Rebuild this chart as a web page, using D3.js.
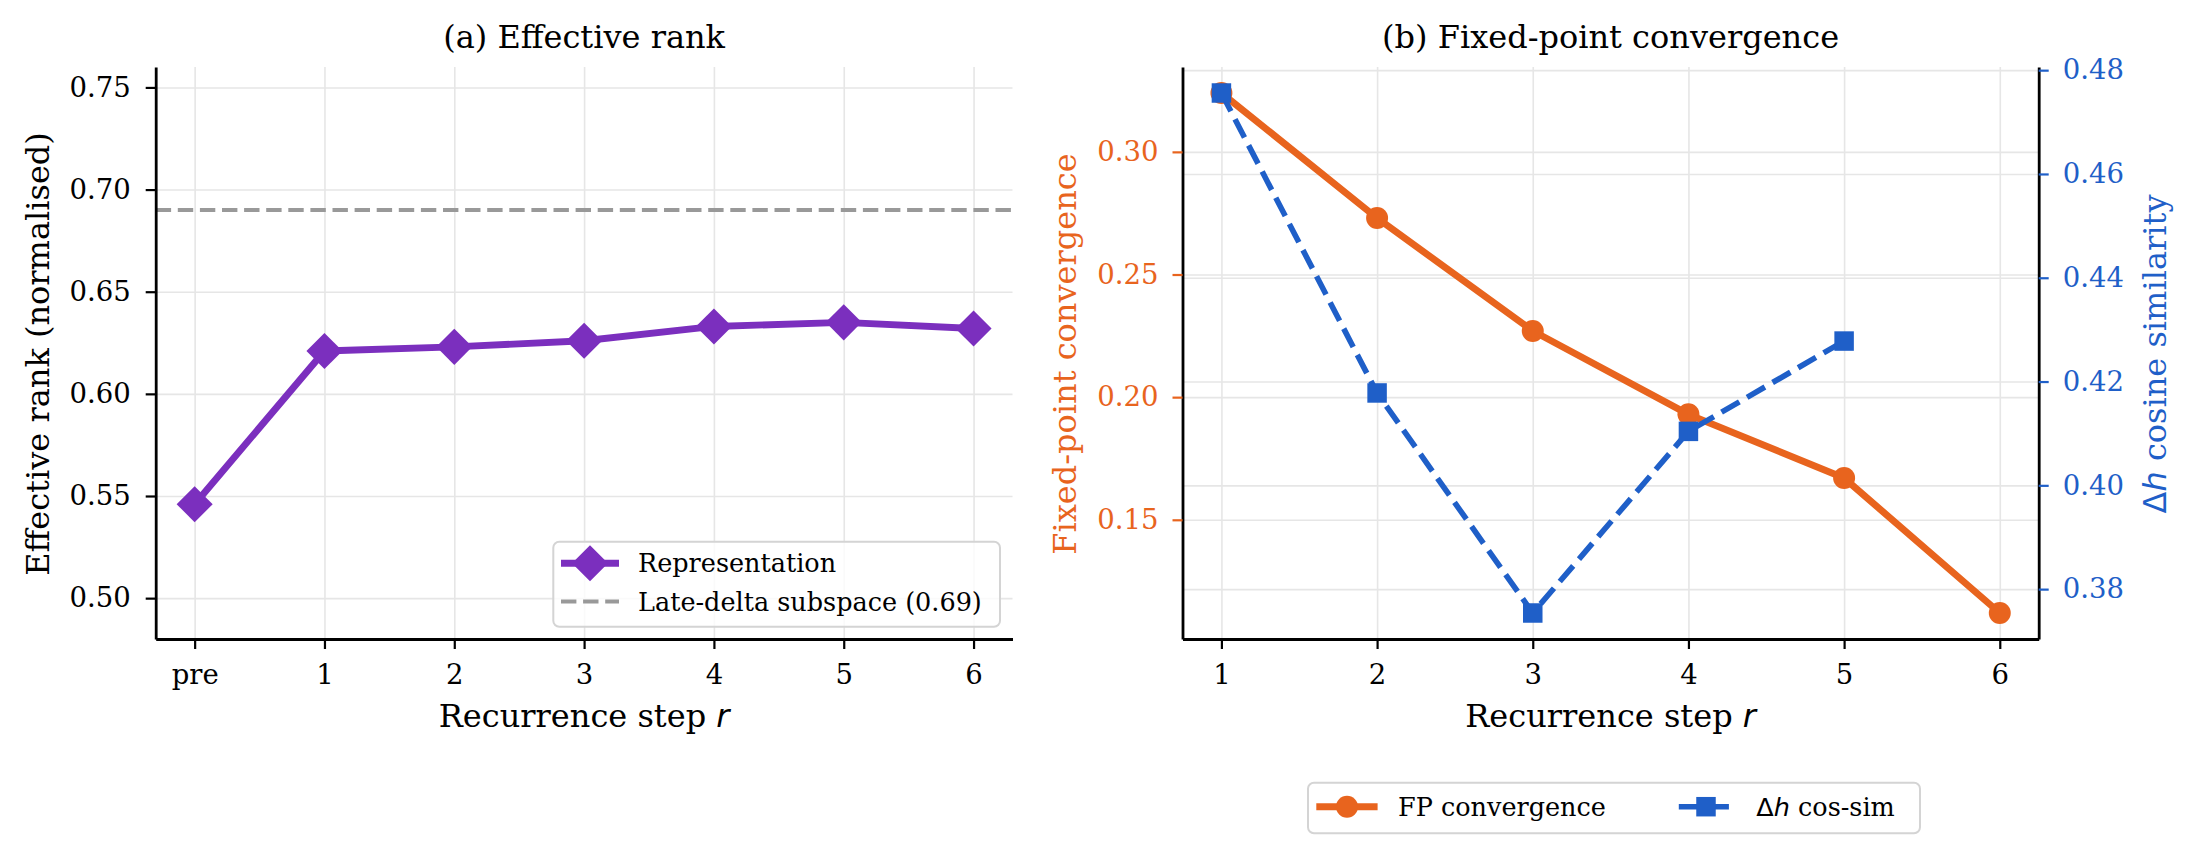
<!DOCTYPE html>
<meta charset="utf-8">
<script src="https://d3js.org/d3.v7.min.js"></script>
<style>
  body { margin: 0; background: #fff; }
  text { font-family: "DejaVu Serif", serif; }
  .grid line { stroke: #e6e6e6; stroke-width: 1.6; }
  .grid path { display: none; }
  .axis path { stroke: #000; stroke-width: 2.8; }
  .axis line { stroke-width: 2.2; }
  .axis text { font-size: 27.5px; }
  .math { font-family: "DejaVu Sans", sans-serif; }
</style>
<div id="chart"></div>
<script>
  // ---- data ----
  var steps = ["pre", "1", "2", "3", "4", "5", "6"];
  var rankValues = [0.546, 0.621, 0.623, 0.626, 0.633, 0.635, 0.632];
  var lateDelta = 0.69;
  var rankTicks = [0.50, 0.55, 0.60, 0.65, 0.70, 0.75];

  var fpSteps = [1, 2, 3, 4, 5, 6];
  var fpValues = [0.324, 0.273, 0.227, 0.193, 0.167, 0.112];
  var cosSteps = [1, 2, 3, 4, 5];
  var cosValues = [0.4756, 0.4178, 0.3754, 0.4104, 0.4278];
  var fpTicks = [0.15, 0.20, 0.25, 0.30];
  var cosTicks = [0.38, 0.40, 0.42, 0.44, 0.46, 0.48];

  var purple = "#7b2fbe", orange = "#e8641e", blue = "#1f5fc8", grey = "#999999";

  var width = 2197, height = 857;
  var svg = d3.select("#chart").append("svg")
      .attr("width", width).attr("height", height);

  // matplotlib-like 5% padding
  function pad(ext) {
    var d = ext[1] - ext[0];
    return [ext[0] - 0.05 * d, ext[1] + 0.05 * d];
  }

  var plotTop = 67, plotBottom = 639;

  // ================= (a) Effective rank =================
  var ax0 = 155.7, ax1 = 1012.5;
  var xA = d3.scaleLinear().domain(pad([0, steps.length - 1])).range([ax0, ax1]);
  var yA = d3.scaleLinear().domain([0.48, 0.76]).range([plotBottom, plotTop]);

  var gA = svg.append("g");

  gA.append("g").attr("class", "grid")
    .attr("transform", "translate(0," + plotBottom + ")")
    .call(d3.axisBottom(xA).tickValues(d3.range(steps.length))
      .tickSize(-(plotBottom - plotTop)).tickFormat(""));
  gA.append("g").attr("class", "grid")
    .attr("transform", "translate(" + ax0 + ",0)")
    .call(d3.axisLeft(yA).tickValues(rankTicks)
      .tickSize(-(ax1 - ax0)).tickFormat(""));

  gA.append("line")
    .attr("x1", ax0).attr("x2", ax1)
    .attr("y1", yA(lateDelta)).attr("y2", yA(lateDelta))
    .attr("stroke", grey).attr("stroke-width", 4)
    .attr("stroke-dasharray", "15.4,6.7");

  var lineA = d3.line().x(function (d, i) { return xA(i); }).y(function (d) { return yA(d); });
  gA.append("path").datum(rankValues)
    .attr("d", lineA).attr("fill", "none")
    .attr("stroke", purple).attr("stroke-width", 6.9);

  var diamond = d3.symbol().type(d3.symbolSquare).size(650);
  gA.selectAll(".dia").data(rankValues).enter().append("path")
    .attr("d", diamond)
    .attr("transform", function (d, i) { return "translate(" + xA(i) + "," + yA(d) + ") rotate(45)"; })
    .attr("fill", purple);

  gA.append("g").attr("class", "axis")
    .attr("transform", "translate(0," + plotBottom + ")")
    .call(d3.axisBottom(xA).tickValues(d3.range(steps.length))
      .tickFormat(function (i) { return steps[i]; })
      .tickSize(10).tickPadding(15).tickSizeOuter(0));
  gA.append("g").attr("class", "axis")
    .attr("transform", "translate(" + ax0 + ",0)")
    .call(d3.axisLeft(yA).tickValues(rankTicks).tickFormat(d3.format(".2f"))
      .tickSize(10).tickPadding(15).tickSizeOuter(0));

  gA.append("text").attr("x", (ax0 + ax1) / 2).attr("y", 48.3)
    .attr("text-anchor", "middle").attr("font-size", 32).text("(a) Effective rank");

  var xlA = gA.append("text").attr("x", (ax0 + ax1) / 2).attr("y", 727)
    .attr("text-anchor", "middle").attr("font-size", 32);
  xlA.append("tspan").text("Recurrence step ");
  xlA.append("tspan").attr("class", "math").attr("font-style", "italic").text("r");

  gA.append("text").attr("transform", "translate(38.3,354) rotate(-90)")
    .attr("text-anchor", "middle").attr("dominant-baseline", "central")
    .attr("font-size", 32).text("Effective rank (normalised)");

  // legend (a)
  var legA = gA.append("g");
  legA.append("rect").attr("x", 553.3).attr("y", 541.7).attr("width", 446.7).attr("height", 85)
    .attr("rx", 6).attr("fill", "#fff").attr("fill-opacity", 0.8)
    .attr("stroke", "#d4d4d4").attr("stroke-width", 2);
  legA.append("line").attr("x1", 561).attr("x2", 619).attr("y1", 563.3).attr("y2", 563.3)
    .attr("stroke", purple).attr("stroke-width", 6.9);
  legA.append("path").attr("d", diamond)
    .attr("transform", "translate(590,563.3) rotate(45)").attr("fill", purple);
  legA.append("line").attr("x1", 561).attr("x2", 619).attr("y1", 601.5).attr("y2", 601.5)
    .attr("stroke", grey).attr("stroke-width", 4).attr("stroke-dasharray", "15.4,6.7");
  legA.append("text").attr("x", 638).attr("y", 563.3).attr("dominant-baseline", "central")
    .attr("font-size", 25.5).text("Representation");
  legA.append("text").attr("x", 638).attr("y", 601.5).attr("dominant-baseline", "central")
    .attr("font-size", 25.5).text("Late-delta subspace (0.69)");

  // ================= (b) Fixed-point convergence =================
  var bx0 = 1182.5, bx1 = 2038.7;
  var xB = d3.scaleLinear().domain(pad(d3.extent(fpSteps))).range([bx0, bx1]);
  var yFP = d3.scaleLinear().domain(pad(d3.extent(fpValues))).range([plotBottom, plotTop]);
  var yCos = d3.scaleLinear().domain(pad(d3.extent(cosValues))).range([plotBottom, plotTop]);

  var gB = svg.append("g");

  gB.append("g").attr("class", "grid")
    .attr("transform", "translate(0," + plotBottom + ")")
    .call(d3.axisBottom(xB).tickValues(fpSteps).tickSize(-(plotBottom - plotTop)).tickFormat(""));
  gB.append("g").attr("class", "grid")
    .attr("transform", "translate(" + bx0 + ",0)")
    .call(d3.axisLeft(yFP).tickValues(fpTicks).tickSize(-(bx1 - bx0)).tickFormat(""));
  gB.append("g").attr("class", "grid")
    .attr("transform", "translate(" + bx0 + ",0)")
    .call(d3.axisLeft(yCos).tickValues(cosTicks).tickSize(-(bx1 - bx0)).tickFormat(""));

  var lineFP = d3.line().x(function (d, i) { return xB(fpSteps[i]); }).y(function (d) { return yFP(d); });
  gB.append("path").datum(fpValues)
    .attr("d", lineFP).attr("fill", "none")
    .attr("stroke", orange).attr("stroke-width", 6.9);
  var circle = d3.symbol().type(d3.symbolCircle).size(380);
  gB.selectAll(".fp").data(fpValues).enter().append("path")
    .attr("d", circle)
    .attr("transform", function (d, i) { return "translate(" + xB(fpSteps[i]) + "," + yFP(d) + ")"; })
    .attr("fill", orange);

  var lineCos = d3.line().x(function (d, i) { return xB(cosSteps[i]); }).y(function (d) { return yCos(d); });
  gB.append("path").datum(cosValues)
    .attr("d", lineCos).attr("fill", "none")
    .attr("stroke", blue).attr("stroke-width", 5.6)
    .attr("stroke-dasharray", "20.6,8.9");
  var square = d3.symbol().type(d3.symbolSquare).size(380);
  gB.selectAll(".cs").data(cosValues).enter().append("path")
    .attr("d", square)
    .attr("transform", function (d, i) { return "translate(" + xB(cosSteps[i]) + "," + yCos(d) + ")"; })
    .attr("fill", blue);

  gB.append("g").attr("class", "axis")
    .attr("transform", "translate(0," + plotBottom + ")")
    .call(d3.axisBottom(xB).tickValues(fpSteps).tickFormat(d3.format("d"))
      .tickSize(10).tickPadding(15).tickSizeOuter(0));

  var axFP = gB.append("g").attr("class", "axis")
    .attr("transform", "translate(" + bx0 + ",0)")
    .call(d3.axisLeft(yFP).tickValues(fpTicks).tickFormat(d3.format(".2f"))
      .tickSize(10).tickPadding(14).tickSizeOuter(0));
  axFP.selectAll(".tick line").attr("stroke", orange);
  axFP.selectAll(".tick text").attr("fill", orange);

  var axCos = gB.append("g").attr("class", "axis")
    .attr("transform", "translate(" + bx1 + ",0)")
    .call(d3.axisRight(yCos).tickValues(cosTicks).tickFormat(d3.format(".2f"))
      .tickSize(10).tickPadding(14).tickSizeOuter(0));
  axCos.selectAll(".tick line").attr("stroke", blue);
  axCos.selectAll(".tick text").attr("fill", blue);

  gB.append("text").attr("x", (bx0 + bx1) / 2).attr("y", 48.3)
    .attr("text-anchor", "middle").attr("font-size", 32).text("(b) Fixed-point convergence");

  var xlB = gB.append("text").attr("x", (bx0 + bx1) / 2).attr("y", 727)
    .attr("text-anchor", "middle").attr("font-size", 32);
  xlB.append("tspan").text("Recurrence step ");
  xlB.append("tspan").attr("class", "math").attr("font-style", "italic").text("r");

  gB.append("text").attr("transform", "translate(1065,354) rotate(-90)")
    .attr("text-anchor", "middle").attr("dominant-baseline", "central")
    .attr("font-size", 32).attr("fill", orange).text("Fixed-point convergence");

  var ylR = gB.append("text").attr("transform", "translate(2155,354) rotate(-90)")
    .attr("text-anchor", "middle").attr("dominant-baseline", "central")
    .attr("font-size", 32).attr("fill", blue);
  ylR.append("tspan").attr("class", "math").text("\u0394");
  ylR.append("tspan").attr("class", "math").attr("font-style", "italic").text("h");
  ylR.append("tspan").text(" cosine similarity");

  // legend (b)
  var legB = svg.append("g");
  var ly = 806.7;
  legB.append("rect").attr("x", 1308).attr("y", 782.7).attr("width", 612).attr("height", 50.6)
    .attr("rx", 6).attr("fill", "#fff").attr("fill-opacity", 0.8)
    .attr("stroke", "#d4d4d4").attr("stroke-width", 2);
  legB.append("line").attr("x1", 1316.3).attr("x2", 1377.6).attr("y1", ly).attr("y2", ly)
    .attr("stroke", orange).attr("stroke-width", 6.9);
  legB.append("path").attr("d", circle).attr("transform", "translate(1347," + ly + ")").attr("fill", orange);
  legB.append("text").attr("x", 1398).attr("y", ly).attr("dominant-baseline", "central")
    .attr("font-size", 25.5).text("FP convergence");
  legB.append("line").attr("x1", 1678.8).attr("x2", 1732.7).attr("y1", ly).attr("y2", ly)
    .attr("stroke", blue).attr("stroke-width", 5.6).attr("stroke-dasharray", "20.6,8.9");
  legB.append("path").attr("d", square).attr("transform", "translate(1706," + ly + ")").attr("fill", blue);
  var lt = legB.append("text").attr("x", 1756.3).attr("y", ly).attr("dominant-baseline", "central")
    .attr("font-size", 25.5);
  lt.append("tspan").attr("class", "math").text("\u0394");
  lt.append("tspan").attr("class", "math").attr("font-style", "italic").text("h");
  lt.append("tspan").text(" cos-sim");
</script>
